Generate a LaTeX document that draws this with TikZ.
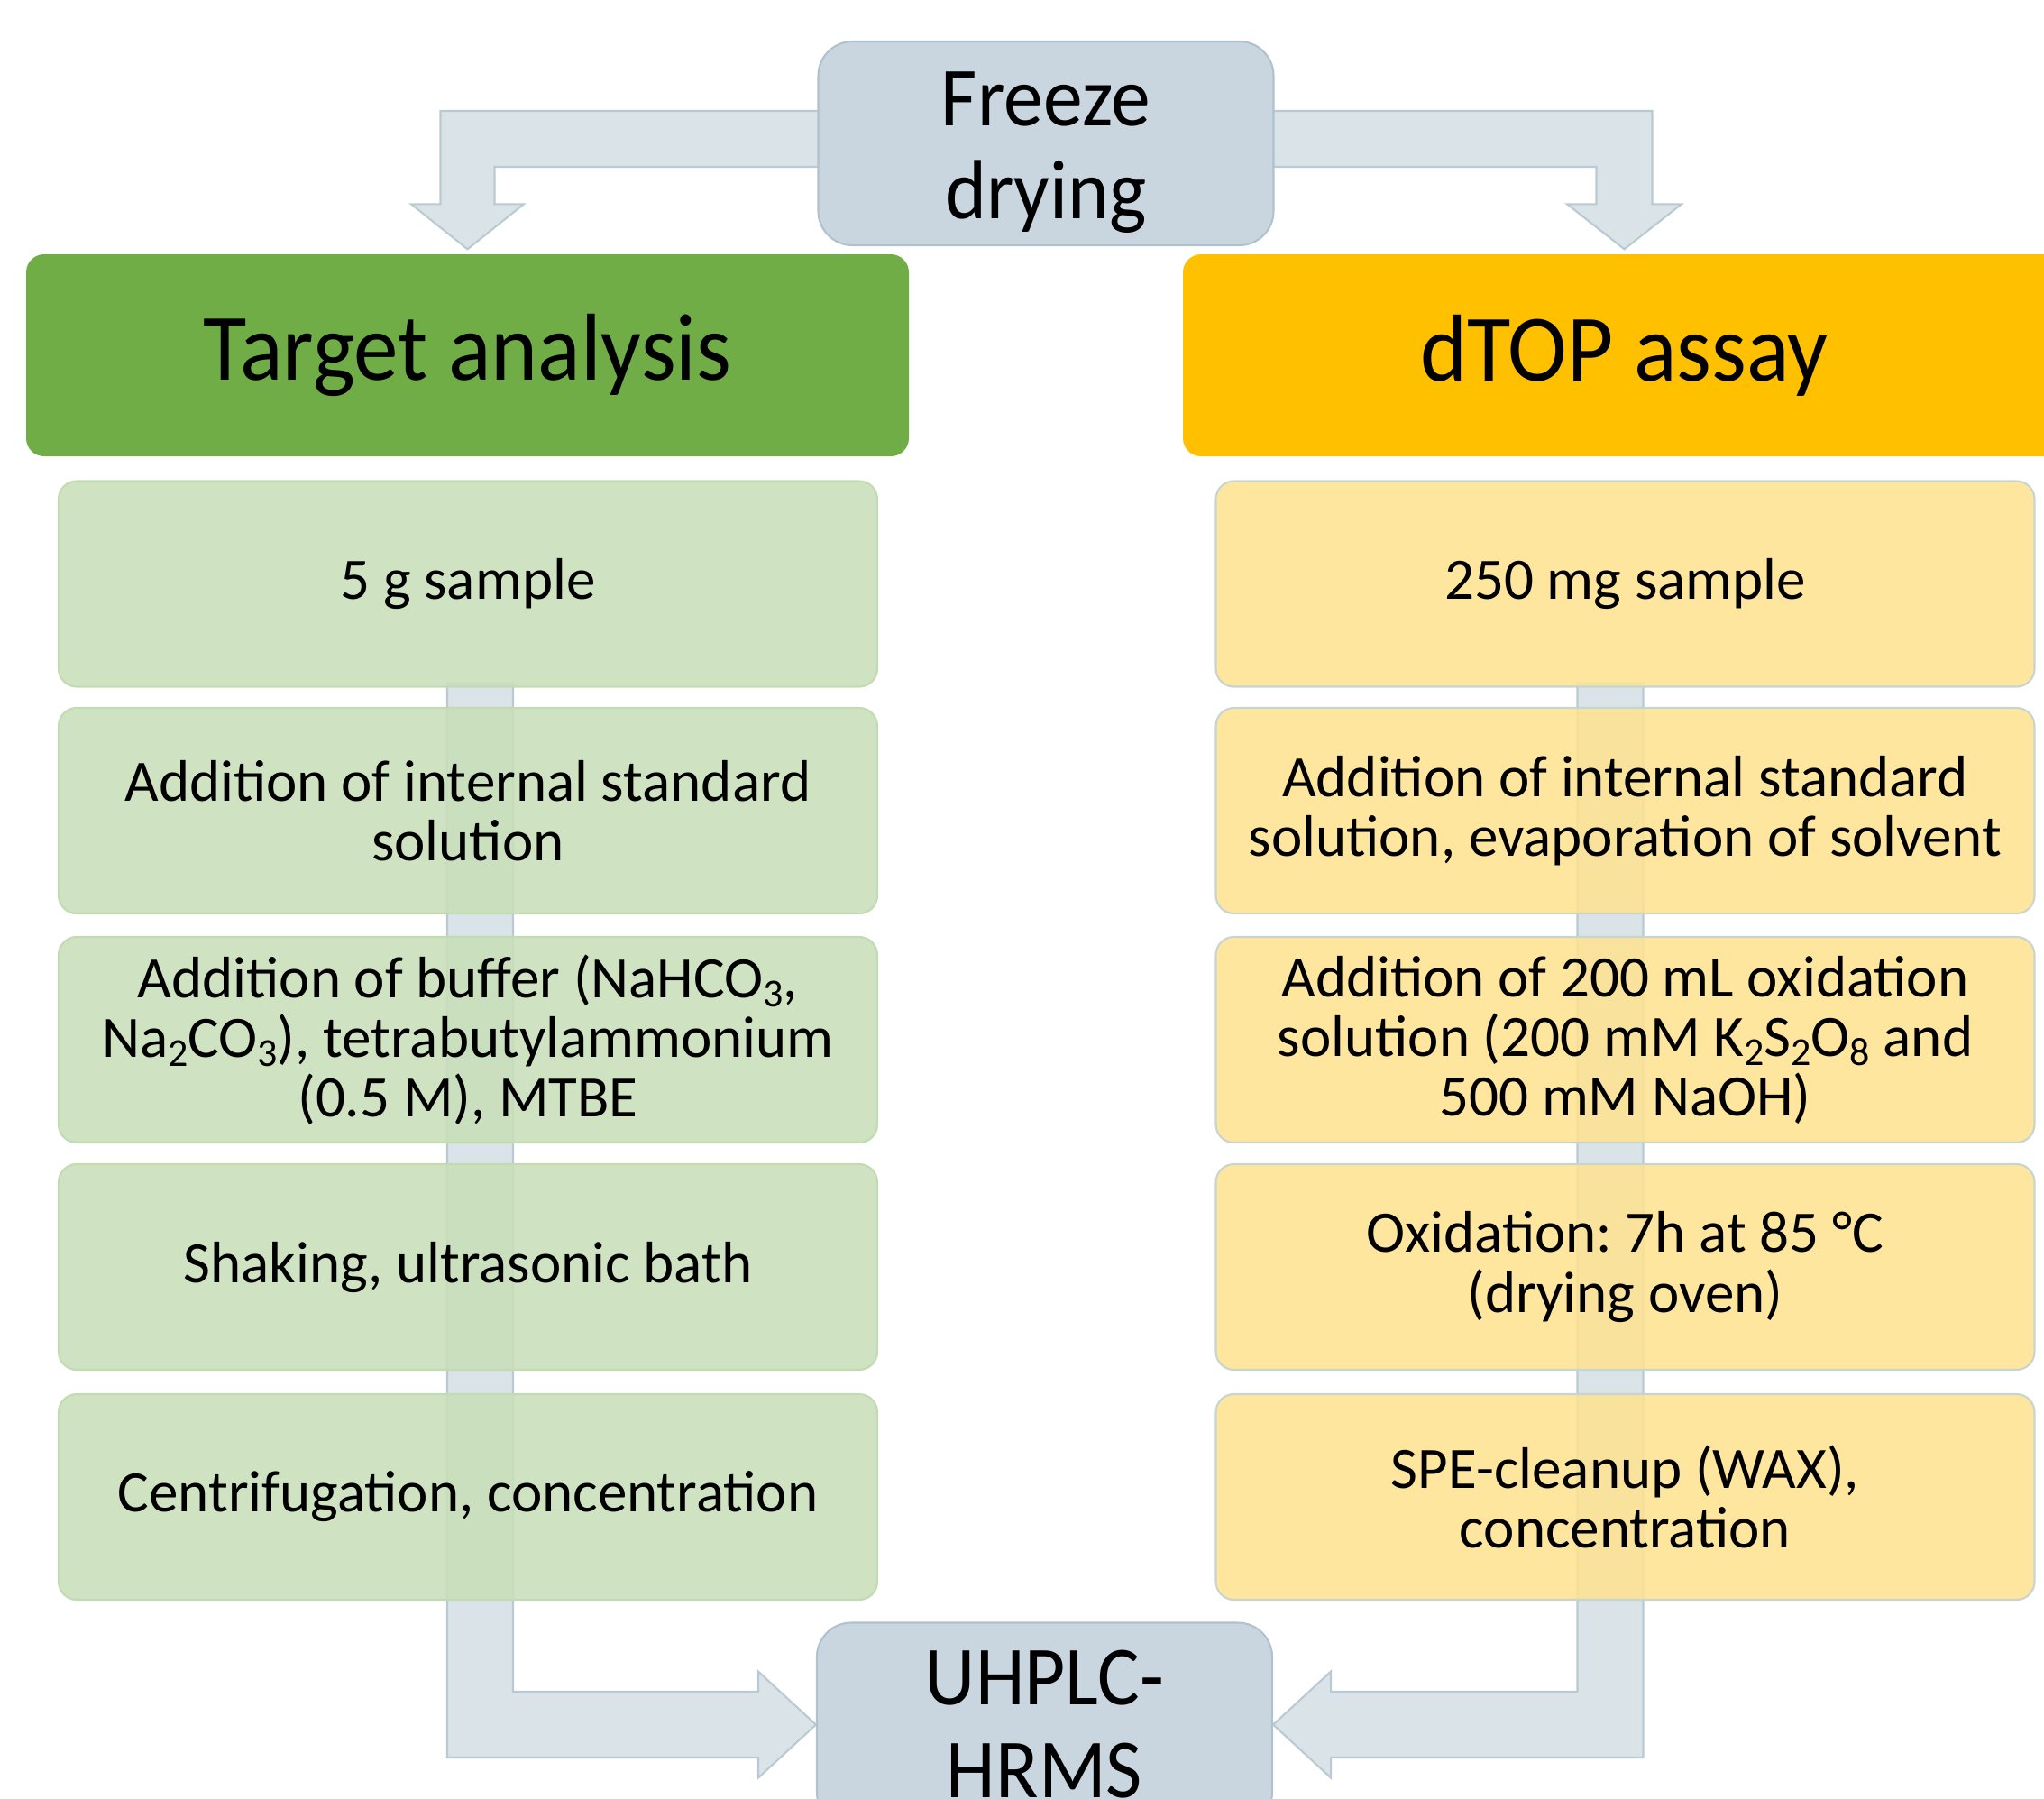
\documentclass[tikz,border=0pt]{standalone}
\usepackage{fontspec}
\setmainfont{Carlito}
\newfontfamily\bigfont[FakeStretch=0.94]{Carlito}
\usetikzlibrary{calc,backgrounds}

\newcommand\tightlines{\lineskiplimit=-100pt\relax}
\newcommand\chemsub[1]{\raisebox{-3pt}{\fontsize{12.5}{12.5}\selectfont#1}}

\definecolor{arrowfill}{HTML}{DAE3E8}
\definecolor{arrowline}{HTML}{B9CAD4}
\definecolor{greyfill}{HTML}{C9D6DF}
\definecolor{greyline}{HTML}{AFC2CE}
\definecolor{darkgreen}{HTML}{70AD47}
\definecolor{lightgreen}{HTML}{C8DFB9}
\definecolor{darkorange}{HTML}{FFC000}
\definecolor{lightorange}{HTML}{FEE392}
\definecolor{greenline}{HTML}{C3DBB3}
\definecolor{orangeline}{HTML}{C6D5D0}

\begin{document}
\begin{tikzpicture}[
  headbox/.style={rounded corners=0.2cm, minimum width=9.79cm, minimum height=2.24cm,
    font=\bigfont\fontsize{30}{33}\selectfont},
  stepbox/.style={rounded corners=0.2cm, minimum width=9.08cm, minimum height=2.28cm,
    align=center, fill opacity=0.88, text opacity=1, line width=0.6pt,
    font=\fontsize{18.5}{18.8}\selectfont\tightlines},
  greenstep/.style={stepbox, fill=lightgreen, draw=greenline},
  orangestep/.style={stepbox, fill=lightorange, draw=orangeline},
  greybox/.style={rounded corners=0.38cm, minimum width=5.05cm, minimum height=2.26cm,
    fill=greyfill, draw=greyline, line width=0.6pt, align=center,
    font=\bigfont\fontsize{26.5}{29.3}\selectfont\tightlines},
  blockarrow/.style={fill=arrowfill, draw=arrowline, line width=0.6pt}
  ]
  \useasboundingbox (0,0) rectangle (22.67,-19.94);

  \node[greybox] (freeze) at (11.60,-1.59) {\rule{0pt}{23pt}Freeze\\drying};

  \node[headbox, fill=darkgreen] (target) at (5.185,-3.94) {Target analysis};
  \node[headbox, fill=darkorange] (dtop) at (18.015,-3.94) {dTOP assay};

  \node[greenstep] (ta1) at (5.19,-6.475) {5 g sample};
  \node[greenstep] (ta2) at (5.19,-8.99) {Addition of internal standard\\solution};
  \node[greenstep] (ta3) at (5.19,-11.53) {Addition of buffer (NaHCO\chemsub{3},\\Na\chemsub{2}CO\chemsub{3}), tetrabutylammonium\\(0.5 M), MTBE};
  \node[greenstep] (ta4) at (5.19,-14.05) {Shaking, ultrasonic bath};
  \node[greenstep] (ta5) at (5.19,-16.60) {Centrifugation, concentration};

  \node[orangestep] (dt1) at (18.025,-6.475) {250 mg sample};
  \node[orangestep] (dt2) at (18.025,-8.99) {Addition of internal standard\\solution, evaporation of solvent};
  \node[orangestep] (dt3) at (18.025,-11.53) {Addition of 200 mL oxidation\\solution (200 mM K\chemsub{2}S\chemsub{2}O\chemsub{8} and\\500 mM NaOH)};
  \node[orangestep] (dt4) at (18.025,-14.05) {Oxidation:\ 7h at 85 °C\\(drying oven)};
  \node[orangestep] (dt5) at (18.025,-16.60) {SPE-cleanup (WAX),\\concentration};

  \node[greybox] (uhplc) at (11.585,-19.125) {UHPLC-\\HRMS};

  \coordinate (tl) at ($(target.north)+(0,0.05)$);
  \coordinate (tr) at ($(dtop.north)+(0,0.05)$);
  \coordinate (barl) at ($(ta1.south)+(0.135,0.05)$);
  \coordinate (barr) at ($(dt1.south)+(-0.165,0.05)$);

  \begin{scope}[on background layer]
    \draw[blockarrow] ($(freeze.center)+(0,0.36)$) -| ($(tl)+(-0.30,0.5)$) -- ++(-0.325,0)
      -- (tl) -- ++(0.625,0.5) -- ++(-0.325,0) |- ($(freeze.center)+(0,-0.26)$) -- cycle;
    \draw[blockarrow] ($(freeze.center)+(0,0.36)$) -| ($(tr)+(0.31,0.5)$) -- ++(0.325,0)
      -- (tr) -- ++(-0.635,0.5) -- ++(0.325,0) |- ($(freeze.center)+(0,-0.26)$) -- cycle;

    \draw[blockarrow] ($(barl)+(-0.365,0)$) |- ($(uhplc.west)+(-0.64,-0.365)$) -- ++(0,-0.225)
      -- (uhplc.west) -- ++(-0.64,0.59) -- ++(0,-0.225) -| ($(barl)+(0.365,0)$) -- cycle;
    \draw[blockarrow] ($(barr)+(0.365,0)$) |- ($(uhplc.east)+(0.64,-0.365)$) -- ++(0,-0.225)
      -- (uhplc.east) -- ++(0.64,0.59) -- ++(0,-0.225) -| ($(barr)+(-0.365,0)$) -- cycle;
  \end{scope}
\end{tikzpicture}
\end{document}
